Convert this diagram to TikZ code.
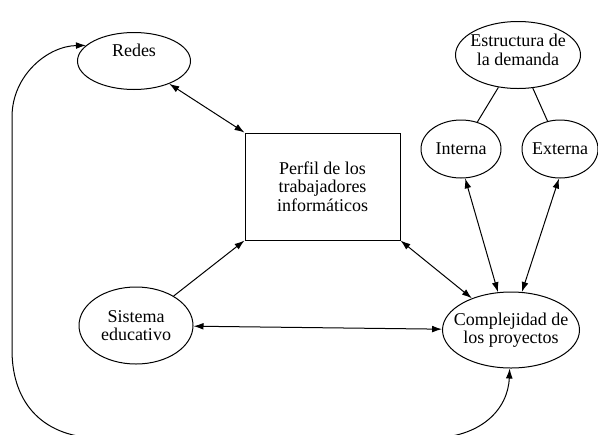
\documentclass[tikz,border=0pt]{standalone}
\usepackage{fontspec}
\setmainfont{Liberation Serif}
\usetikzlibrary{positioning,shapes,arrows.meta}

\begin{document}
\begin{tikzpicture}[x=0.5pt,y=-0.5pt,line width=0.5pt,
  font=\fontsize{9}{9.3}\selectfont,
  >={Latex[length=5pt,width=3.4pt]},
  elip/.style={draw,ellipse,inner sep=-6pt,align=center},
  caja/.style={draw,rectangle,inner sep=0pt,align=center}]
  \useasboundingbox (0,0) rectangle (598,434);
  \node at (134,61) (A) [elip,minimum width=56.5pt,minimum height=28.5pt,
    label={[yshift=5.5pt]center:Redes}]{};
  \node at (518,55) (B) [elip,minimum width=62.5pt,minimum height=33.5pt,
    label={[yshift=2.5pt,align=center]center:Estructura de\\la demanda}]{};
  \node at (461,149) (C) [elip,minimum width=40pt,minimum height=29pt]{Interna};
  \node at (560,149) (D) [elip,minimum width=38pt,minimum height=29pt]{Externa};
  \node at (322.5,186.5) (E) [caja,minimum width=77.5pt,minimum height=53.5pt]{%
    Perfil de los\\trabajadores\\informáticos};
  \node at (136,325.5) (F) [elip,minimum width=57pt,minimum height=38.5pt]{%
    Sistema\\educativo};
  \node at (511,330) (G) [elip,minimum width=68.5pt,minimum height=38pt]{%
    Complejidad de\\los proyectos};

  \draw[<->] (A) -- (E.north west);
  \draw[->] (F) -- (E.south west);
  \draw[<->] (E.south east) -- (G);
  \draw[<->] (F) -- (G);
  \draw (B) -- (C);
  \draw (B) -- (D);
  \draw[<->] (C.-82) -- (G.109);
  \draw[<->] (D.-92) -- (G.74);
  % vuelta exterior
  \draw[<->] (A.162) .. controls (48,46) and (12,75) .. (12,117) -- (12,350)
    .. controls (12,405) and (45,438) .. (100,438) -- (430,438)
    .. controls (480,438) and (508,410) .. (G.-92);
\end{tikzpicture}
\end{document}
